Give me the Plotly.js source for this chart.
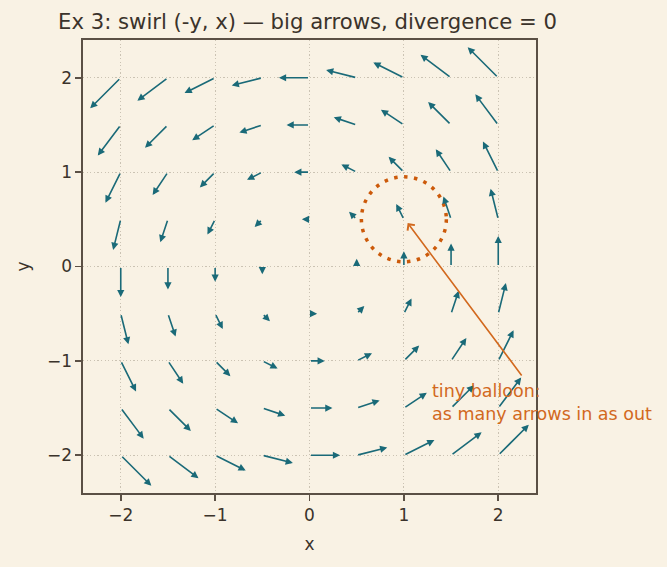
<!DOCTYPE html>
<html>
<head>
<meta charset="utf-8">
<script src="https://cdn.plot.ly/plotly-3.0.1.min.js"></script>
<style>html,body{margin:0;padding:0;background:#f9f2e4;}</style>
</head>
<body>
<div id="chart" style="width:667px;height:567px;"></div>
<script>
// grid of sample points
const xGrid = [-2, -1.5, -1, -0.5, 0, 0.5, 1, 1.5, 2];
const yGrid = [-2, -1.5, -1, -0.5, 0, 0.5, 1, 1.5, 2];
// field components U = -y, V = x, one row per yGrid value
const U = [
  [2, 2, 2, 2, 2, 2, 2, 2, 2],
  [1.5, 1.5, 1.5, 1.5, 1.5, 1.5, 1.5, 1.5, 1.5],
  [1, 1, 1, 1, 1, 1, 1, 1, 1],
  [0.5, 0.5, 0.5, 0.5, 0.5, 0.5, 0.5, 0.5, 0.5],
  [0, 0, 0, 0, 0, 0, 0, 0, 0],
  [-0.5, -0.5, -0.5, -0.5, -0.5, -0.5, -0.5, -0.5, -0.5],
  [-1, -1, -1, -1, -1, -1, -1, -1, -1],
  [-1.5, -1.5, -1.5, -1.5, -1.5, -1.5, -1.5, -1.5, -1.5],
  [-2, -2, -2, -2, -2, -2, -2, -2, -2]
];
const V = [
  [-2, -1.5, -1, -0.5, 0, 0.5, 1, 1.5, 2],
  [-2, -1.5, -1, -0.5, 0, 0.5, 1, 1.5, 2],
  [-2, -1.5, -1, -0.5, 0, 0.5, 1, 1.5, 2],
  [-2, -1.5, -1, -0.5, 0, 0.5, 1, 1.5, 2],
  [-2, -1.5, -1, -0.5, 0, 0.5, 1, 1.5, 2],
  [-2, -1.5, -1, -0.5, 0, 0.5, 1, 1.5, 2],
  [-2, -1.5, -1, -0.5, 0, 0.5, 1, 1.5, 2],
  [-2, -1.5, -1, -0.5, 0, 0.5, 1, 1.5, 2],
  [-2, -1.5, -1, -0.5, 0, 0.5, 1, 1.5, 2]
];
const tickVals = [-2, -1, 0, 1, 2];
const tickText = ['\u22122', '\u22121', '0', '1', '2'];
const titleText = 'Ex 3: swirl (-y, x) \u2014 big arrows, divergence = 0';
const noteText = 'tiny balloon:<br>as many arrows in as out';
const balloonCenter = [1, 0.5];
const balloonRadius = 0.45;
const noteArrowTip = [1.04, 0.46];
const noteArrowTail = [2.26, -1.17];
const notePos = [1.28, -1.44];

const S = 0.162; // arrow length per unit of field
const teal = '#1a6a78';
const orange = '#d2691e';
const ink = '#3b332b';
const bg = '#f9f2e4';

const annotations = [];
for (let j = 0; j < yGrid.length; j++) {
  for (let i = 0; i < xGrid.length; i++) {
    const u = U[j][i], v = V[j][i];
    if (u === 0 && v === 0) continue;
    const x0 = xGrid[i], y0 = yGrid[j];
    annotations.push({
      x: x0 + S * u, y: y0 + S * v, ax: x0, ay: y0,
      xref: 'x', yref: 'y', axref: 'x', ayref: 'y',
      text: '', showarrow: true, arrowhead: 2, arrowsize: 0.9,
      arrowwidth: 1.6, arrowcolor: teal, standoff: 0, startstandoff: 0
    });
  }
}
annotations.push({
  x: noteArrowTip[0], y: noteArrowTip[1], ax: noteArrowTail[0], ay: noteArrowTail[1],
  xref: 'x', yref: 'y', axref: 'x', ayref: 'y',
  text: '', showarrow: true, arrowhead: 4, arrowsize: 1.1, arrowwidth: 1.6,
  arrowcolor: orange, standoff: 0, startstandoff: 0
});
annotations.push({
  x: notePos[0], y: notePos[1], xref: 'x', yref: 'y',
  xanchor: 'left', yanchor: 'middle', align: 'left', showarrow: false,
  text: noteText, font: {family: 'DejaVu Sans', size: 17.5, color: orange}
});

const axisCommon = {
  range: [-2.4, 2.4], tickvals: tickVals, ticktext: tickText,
  showgrid: true, gridcolor: '#bfb6a6', griddash: '1.2px,2.4px', gridwidth: 0.8,
  zeroline: false, showline: true, linecolor: '#5b5045', linewidth: 1.6,
  mirror: true, ticks: 'outside', ticklen: 6, tickwidth: 1.6, tickcolor: '#5b5045',
  tickfont: {family: 'DejaVu Sans', size: 17, color: ink}
};

const layout = {
  width: 667, height: 567,
  margin: {l: 83, r: 131, t: 40, b: 74, pad: 0},
  paper_bgcolor: bg, plot_bgcolor: bg,
  showlegend: false,
  font: {family: 'DejaVu Sans', color: ink},
  title: {text: titleText, xref: 'container', yref: 'container', x: 58 / 667, xanchor: 'left',
          y: 1 - 22 / 567, yanchor: 'middle', font: {family: 'DejaVu Sans', size: 21.2, color: ink}},
  xaxis: Object.assign({}, axisCommon, {title: {text: 'x', standoff: 14, font: {family: 'DejaVu Sans', size: 17, color: ink}}}),
  yaxis: Object.assign({}, axisCommon, {title: {text: 'y', standoff: 13, font: {family: 'DejaVu Sans', size: 17, color: ink}}}),
  shapes: [{
    type: 'circle', xref: 'x', yref: 'y',
    x0: balloonCenter[0] - balloonRadius, x1: balloonCenter[0] + balloonRadius,
    y0: balloonCenter[1] - balloonRadius, y1: balloonCenter[1] + balloonRadius,
    line: {color: '#cc5a0a', width: 3.5, dash: '3.5px,6.5px'}, layer: 'above'
  }],
  annotations: annotations
};

Plotly.newPlot('chart', [{x: [], y: [], type: 'scatter', mode: 'markers', hoverinfo: 'skip'}], layout,
  {displayModeBar: false, staticPlot: true});
</script>
</body>
</html>
